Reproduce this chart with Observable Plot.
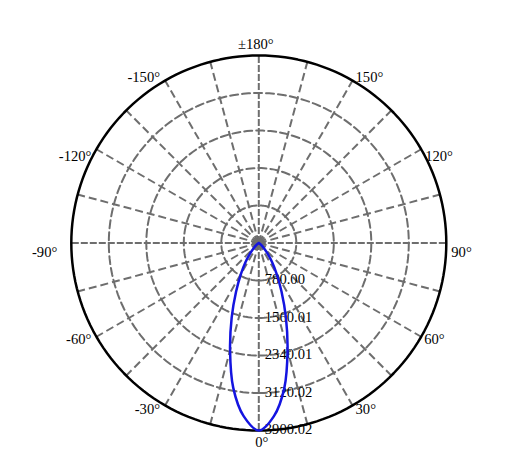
<!DOCTYPE html>
<html>
<head>
<meta charset="utf-8">
<script src="https://cdn.jsdelivr.net/npm/d3@7"></script>
<script src="https://cdn.jsdelivr.net/npm/@observablehq/plot@0.6"></script>
<style>
  html, body { margin: 0; padding: 0; background: #fff; }
</style>
</head>
<body>
<div id="chart"></div>
<script>
// ---- data ----
const maxIntensity = 3900.02;
const ringValues = [780.00, 1560.01, 2340.01, 3120.02, 3900.02];
const ringLabels = ["780.00", "1560.01", "2340.01", "3120.02", "3900.02"];
const spokeAngles = [15, 30, 45, 60, 75, 105, 120, 135, 150, 165, -15, -30, -45, -60, -75, -105, -120, -135, -150, -165];
const axisAngles = [0, 90, 180, -90];
const tickAngles = [0, 30, 60, 90, 120, 150, 180, -150, -120, -90, -60, -30];
const tickLabels = ["0°", "30°", "60°", "90°", "120°", "150°", "±180°", "-150°", "-120°", "-90°", "-60°", "-30°"];
const curveAngles = [-90, -80, -70, -60, -55, -50, -45, -40, -35, -30, -25, -20, -15, -10, -5, 0, 5, 10, 15, 20, 25, 30, 35, 40, 45, 50, 55, 60, 70, 80, 90];
const curveValues = [0, 2, 6, 18, 35, 70, 140, 270, 480, 745, 1120, 1650, 2310, 3060, 3615, 3900, 3615, 3060, 2310, 1650, 1120, 745, 480, 270, 140, 70, 35, 18, 6, 2, 0];

// ---- geometry helpers (polar -> cartesian in data units) ----
const rad = a => a * Math.PI / 180;
const px = (a, r) => r * Math.sin(rad(a));
const py = (a, r) => -r * Math.cos(rad(a));

const ringPts = [];
ringValues.forEach((r, i) => {
  for (let a = 0; a <= 360; a += 2) ringPts.push({ring: i, x: px(a, r), y: py(a, r)});
});
const dashedRings = ringPts.filter(d => d.ring < ringValues.length - 1);
const outerRing = ringPts.filter(d => d.ring === ringValues.length - 1);

const spokes = spokeAngles.map(a => ({x1: 0, y1: 0, x2: px(a, maxIntensity), y2: py(a, maxIntensity)}));
const axes = axisAngles.map(a => ({x1: 0, y1: 0, x2: px(a, maxIntensity), y2: py(a, maxIntensity)}));

// label offsets (pixels) by |angle|
const offs = {0: [3, 12], 30: [3, 4], 60: [3, 3], 90: [5, 9], 120: [4, 7], 150: [3, -3], 180: [-3, -11]};
const ticks = tickAngles.map((a, i) => {
  const k = Math.abs(a);
  let [dx, dy] = offs[k];
  let anchor = "start";
  if (a === 0 || a === 180) anchor = "middle";
  else if (a < 0) { anchor = "end"; dx = (k === 90) ? -14 : -5; }
  return {a, label: tickLabels[i], x: px(a, maxIntensity), y: py(a, maxIntensity), dx, dy, anchor};
});

const rings = ringValues.map((r, i) => ({x: 0, y: -r, label: ringLabels[i]}));
const curve = curveAngles.map((a, i) => ({x: px(a, curveValues[i]), y: py(a, curveValues[i])}));

const gray = "#6e6e6e";
const font = "'Liberation Serif', 'DejaVu Serif', serif";
const fs = 14.6;

const textMarks = ticks.map(t => Plot.text([t], {x: "x", y: "y", text: "label", textAnchor: t.anchor, dx: t.dx, dy: t.dy, fontSize: fs, fill: "black", fontFamily: font}));

const chart = Plot.plot({
  width: 515,
  height: 471,
  marginLeft: 70.8,
  marginRight: 69.2,
  marginTop: 55,
  marginBottom: 41,
  x: {domain: [-maxIntensity, maxIntensity], axis: null},
  y: {domain: [-maxIntensity, maxIntensity], axis: null},
  style: {background: "#fff", fontFamily: font},
  marks: [
    Plot.line(dashedRings, {x: "x", y: "y", z: "ring", stroke: gray, strokeWidth: 2, strokeDasharray: "8,4"}),
    Plot.link(spokes, {x1: "x1", y1: "y1", x2: "x2", y2: "y2", stroke: gray, strokeWidth: 2, strokeDasharray: "8,4"}),
    Plot.link(axes, {x1: "x1", y1: "y1", x2: "x2", y2: "y2", stroke: gray, strokeWidth: 2, strokeDasharray: "7,2"}),
    Plot.line(outerRing, {x: "x", y: "y", stroke: "black", strokeWidth: 2.5}),
    Plot.text(rings, {x: "x", y: "y", text: "label", textAnchor: "start", dx: 6, dy: -1, fontSize: fs, fill: "black", fontFamily: font}),
    ...textMarks,
    Plot.line(curve, {x: "x", y: "y", stroke: "#1414e0", strokeWidth: 2.5, curve: "catmull-rom"})
  ]
});
document.getElementById("chart").appendChild(chart);
</script>
</body>
</html>
